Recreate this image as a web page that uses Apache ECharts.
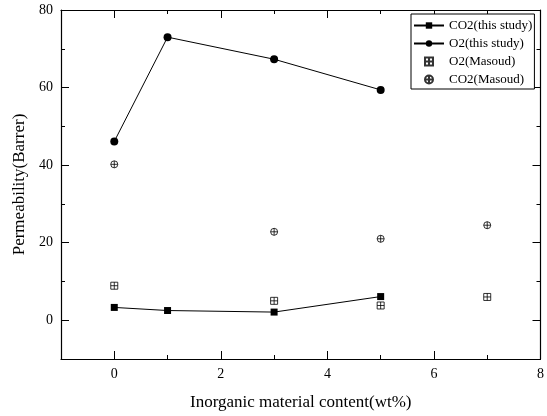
<!DOCTYPE html>
<html>
<head>
<meta charset="utf-8">
<script src="https://cdn.jsdelivr.net/npm/echarts@6/dist/echarts.min.js"></script>
<style>html,body{margin:0;padding:0;background:#fff;width:100%;height:100%;overflow:hidden}#c{width:547px;height:416px}</style>
</head>
<body>
<div id="c"></div>
<script>
const co2StudyX = [0, 1, 3, 5];
const co2StudyY = [3.3, 2.5, 2.1, 6.1];
const o2StudyX = [0, 1, 3, 5];
const o2StudyY = [46.1, 73.0, 67.3, 59.4];
const o2MasoudX = [0, 3, 5, 7];
const o2MasoudY = [8.9, 5.0, 3.8, 6.0];
const co2MasoudX = [0, 3, 5, 7];
const co2MasoudY = [40.2, 22.8, 21.0, 24.5];
const xTickLabels = [0, 2, 4, 6, 8];
const yTickLabels = [0, 20, 40, 60, 80];

const pair = (xs, ys) => xs.map((x, i) => [x, ys[i]]);
const FONT = 'Liberation Serif';
const sqPlus = 'path://M0,0 L10,0 L10,10 L0,10 Z M5,0 L5,10 M0,5 L10,5';
const cirPlus = 'path://M10,5 A5,5 0 1,1 0,5 A5,5 0 1,1 10,5 Z M5,0 L5,10 M0,5 L10,5';

function xAxisDef(pos, showLabel) {
  return {
    type: 'value', position: pos, min: -1, max: 8, interval: 1,
    axisLine: { show: true, onZero: false, lineStyle: { color: '#000', width: 1.2 } },
    axisTick: { show: true, inside: true, length: 4, lineStyle: { color: '#000' } },
    axisLabel: { show: showLabel, color: '#000', fontFamily: FONT, fontSize: 14, margin: 8,
      formatter: v => xTickLabels.includes(v) ? String(v) : '' },
    splitLine: { show: false },
    name: showLabel ? 'Inorganic material content(wt%)' : '',
    nameLocation: 'middle', nameGap: 35,
    nameTextStyle: { color: '#000', fontFamily: FONT, fontSize: 17 }
  };
}
function yAxisDef(pos, showLabel) {
  return {
    type: 'value', position: pos, min: -10, max: 80, interval: 10,
    axisLine: { show: true, onZero: false, lineStyle: { color: '#000', width: 1.2 } },
    axisTick: { show: true, inside: true, length: 4, lineStyle: { color: '#000' } },
    axisLabel: { show: showLabel, color: '#000', fontFamily: FONT, fontSize: 14, margin: 8,
      formatter: v => yTickLabels.includes(v) ? String(v) : '' },
    splitLine: { show: false },
    name: showLabel ? 'Permeability(Barrer)' : '',
    nameLocation: 'middle', nameGap: 25,
    nameTextStyle: { color: '#000', fontFamily: FONT, fontSize: 17 }
  };
}
// long ticks: inverse auxiliary axes so counting from min lands on even values
function xMajor(pos) {
  return {
    type: 'value', position: pos, inverse: true, min: -8, max: 1, interval: 2,
    axisLine: { show: false, onZero: false }, axisLabel: { show: false }, splitLine: { show: false },
    axisTick: { show: true, inside: true, length: 8, lineStyle: { color: '#000' } }
  };
}
function yMajor(pos) {
  return {
    type: 'value', position: pos, inverse: true, min: -80, max: 10, interval: 20,
    axisLine: { show: false, onZero: false }, axisLabel: { show: false }, splitLine: { show: false },
    axisTick: { show: true, inside: true, length: 8, lineStyle: { color: '#000' } }
  };
}

const chart = echarts.init(document.getElementById('c'), null, { renderer: 'canvas', width: 547, height: 416 });
chart.setOption({
  animation: false,
  backgroundColor: '#fff',
  textStyle: { fontFamily: FONT },
  grid: { left: 61, top: 10, width: 480, height: 353 },
  xAxis: [xAxisDef('bottom', true), xAxisDef('top', false), xMajor('bottom'), xMajor('top')],
  yAxis: [yAxisDef('left', true), yAxisDef('right', false), yMajor('left'), yMajor('right')],
  legend: {
    orient: 'vertical', left: 411, top: 14,
    backgroundColor: '#fff', borderColor: '#000', borderWidth: 1,
    padding: [5, 2, 3, 2], itemGap: 5, itemWidth: 30, itemHeight: 8,
    textStyle: { color: '#000', fontFamily: FONT, fontSize: 13 },
    data: ['CO2(this study)', 'O2(this study)', 'O2(Masoud)', 'CO2(Masoud)']
  },
  series: [
    { name: 'CO2(this study)', type: 'line', data: pair(co2StudyX, co2StudyY),
      symbol: 'rect', symbolSize: 7, lineStyle: { color: '#000', width: 1 },
      itemStyle: { color: '#000' } },
    { name: 'O2(this study)', type: 'line', data: pair(o2StudyX, o2StudyY),
      symbol: 'circle', symbolSize: 8, lineStyle: { color: '#000', width: 1 },
      itemStyle: { color: '#000' } },
    { name: 'O2(Masoud)', type: 'scatter', data: pair(o2MasoudX, o2MasoudY),
      symbol: sqPlus, symbolSize: 7,
      itemStyle: { color: '#fff', borderColor: '#000', borderWidth: 1 } },
    { name: 'CO2(Masoud)', type: 'scatter', data: pair(co2MasoudX, co2MasoudY),
      symbol: cirPlus, symbolSize: 7,
      itemStyle: { color: '#fff', borderColor: '#000', borderWidth: 1 } }
  ]
});
</script>
</body>
</html>
